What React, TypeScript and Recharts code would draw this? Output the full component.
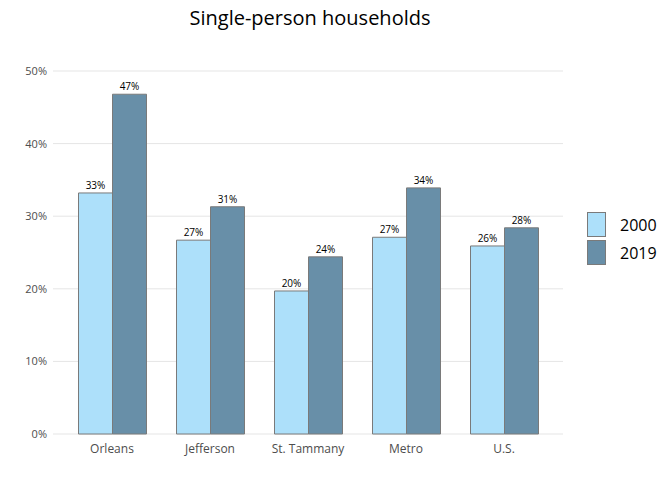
import React from "react";
import { BarChart, Bar, XAxis, YAxis, CartesianGrid, LabelList } from "recharts";

const categories = ["Orleans", "Jefferson", "St. Tammany", "Metro", "U.S."];
const values2000 = [33.2, 26.7, 19.7, 27.1, 25.9];
const values2019 = [46.8, 31.3, 24.4, 33.9, 28.4];
const yTicks = [0, 10, 20, 30, 40, 50];
const seriesNames = ["2000", "2019"];
const colors = ["#ADE0FA", "#688FA8"];

const data = categories.map((c, i) => ({ name: c, y2000: values2000[i], y2019: values2019[i] }));

if (typeof document !== "undefined") document.body.style.margin = "0";

const font = "'Open Sans', 'DejaVu Sans', sans-serif";

export default function App() {
  return (
    <div style={{ position: "relative", width: 672, height: 480, background: "#fff", fontFamily: font }}>
      <div style={{ position: "absolute", top: 4, left: 0, width: 620, textAlign: "center", fontSize: 20, color: "#000" }}>
        Single-person households
      </div>
      <BarChart
        width={672}
        height={480}
        data={data}
        margin={{ top: 71, right: 109, bottom: 16, left: 0 }}
        barCategoryGap={15.5}
        barGap={0}
      >
        <CartesianGrid vertical={false} stroke="#e5e5e5" />
        <XAxis
          dataKey="name"
          axisLine={false}
          tickLine={false}
          height={30}
          padding={{ left: 10, right: 10 }}
          tick={{ fontSize: 12, fill: "#4d4d4d", fontFamily: font }}
          tickMargin={4}
          interval={0}
        />
        <YAxis
          width={53}
          domain={[0, 50]}
          ticks={yTicks}
          axisLine={false}
          tickLine={false}
          tickSize={0}
          tickMargin={6}
          tickFormatter={(v) => `${v}%`}
          tick={{ fontSize: 11, fill: "#4d4d4d", fontFamily: font }}
        />
        <Bar dataKey="y2000" fill={colors[0]} stroke="#7a7a7a" strokeWidth={1} isAnimationActive={false}>
          <LabelList dataKey="y2000" position="top" offset={4} formatter={(v) => `${Math.round(Number(v))}%`} style={{ fontSize: 10, fill: "#000", fontFamily: font }} />
        </Bar>
        <Bar dataKey="y2019" fill={colors[1]} stroke="#7a7a7a" strokeWidth={1} isAnimationActive={false}>
          <LabelList dataKey="y2019" position="top" offset={4} formatter={(v) => `${Math.round(Number(v))}%`} style={{ fontSize: 10, fill: "#000", fontFamily: font }} />
        </Bar>
      </BarChart>
      <div style={{ position: "absolute", left: 587, top: 211 }}>
        {seriesNames.map((n, i) => (
          <div key={n} style={{ display: "flex", alignItems: "center", height: 27, marginBottom: 1 }}>
            <div style={{ width: 19, height: 25, background: colors[i], border: "1px solid #7a7a7a", boxSizing: "border-box" }} />
            <span style={{ marginLeft: 14, fontSize: 16, color: "#000" }}>{n}</span>
          </div>
        ))}
      </div>
    </div>
  );
}
